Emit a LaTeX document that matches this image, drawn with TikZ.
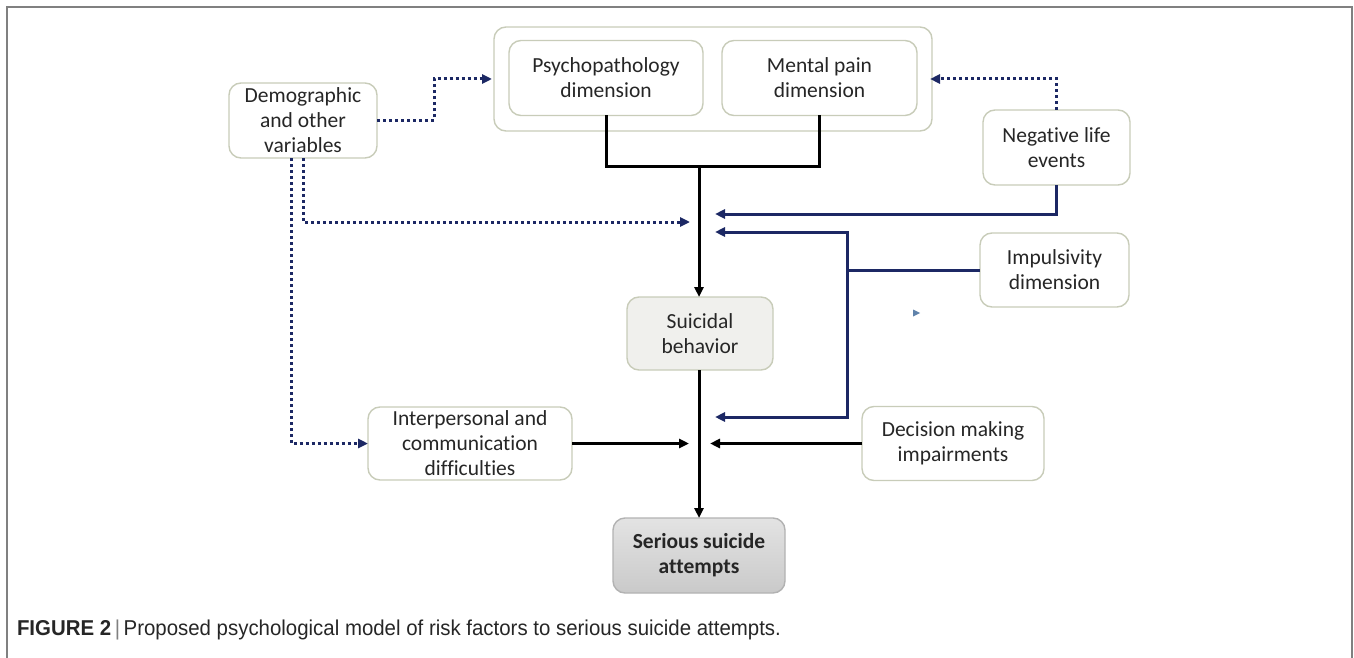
\documentclass[tikz,border=0pt]{standalone}
\usepackage{fontspec}
\setmainfont{Carlito}[Ligatures=NoCommon]
\newfontfamily\capfont{Liberation Sans}[FakeStretch=0.95]
\usetikzlibrary{arrows.meta,positioning,calc}
\definecolor{boxc}{RGB}{200,204,185}
\definecolor{navy}{RGB}{28,40,100}
\definecolor{txt}{RGB}{38,38,38}
\definecolor{frame}{RGB}{128,128,128}
\definecolor{suifill}{RGB}{240,240,237}
\definecolor{stray}{RGB}{95,130,170}
\begin{document}
\begin{tikzpicture}[x=1pt,y=-1pt,
  every node/.style={inner sep=0pt,outer sep=0pt},
  bx/.style={draw=boxc,line width=1.4pt,rounded corners=12pt,fill=white,align=center,
    text=txt,font=\fontsize{21.5}{25}\selectfont},
  blk/.style={draw=black,line width=3pt},
  bl/.style={draw=navy,line width=3pt},
  dt/.style={draw=navy,line width=3pt,dash pattern=on 3pt off 3pt},
  tip/.style={-{Triangle[length=10pt,width=9pt]}},
]
\useasboundingbox (0,0) rectangle (1354,658);
% frame
\draw[frame,line width=1.6pt] (7,660) -- (7,7) -- (1352,7) -- (1352,660);

% boxes
\node[bx,minimum width=438pt,minimum height=104pt] (outer) at (713,79) {};
\node[bx,minimum width=194pt,minimum height=75pt] (psy) at (606,78) {Psychopathology\\dimension};
\node[bx,minimum width=195pt,minimum height=75pt] (mental) at (819.5,78) {Mental pain\\dimension};
\node[bx,minimum width=148pt,minimum height=75pt] (demo) at (303,120.5) {Demographic\\and other\\variables};
\node[bx,minimum width=147pt,minimum height=75pt] (neg) at (1056.5,147.5) {Negative life\\events};
\node[bx,minimum width=149pt,minimum height=74pt] (imp) at (1054.5,270) {Impulsivity\\dimension};
\node[bx,fill=suifill,minimum width=146pt,minimum height=73pt] (sui) at (700,333.5) {Suicidal\\behavior};
\node[bx,minimum width=204pt,minimum height=73pt] (inter) at (470,443.5) {Interpersonal and\\communication\\difficulties};
\node[bx,minimum width=182pt,minimum height=74pt] (dec) at (953,443.5) {Decision making\\impairments};
\node[bx,draw=gray!60,top color=gray!22,bottom color=gray!42,minimum width=172pt,minimum height=75pt,
  font=\bfseries\fontsize{21.5}{25}\selectfont] (ser) at (699,555.5) {Serious suicide\\attempts};

% coordinates
\coordinate (j) at (699,166);
\coordinate (d1) at (690,222);
\coordinate (a1) at (715,214);
\coordinate (a2) at (715,232);
\coordinate (a4) at (715,417);
\coordinate (k) at (847,270);
\coordinate (b1) at (689,443.5);
\coordinate (b2) at (710,443.5);
\coordinate (dm) at (434,120.5);

% black connectors
\draw[blk] (psy.south) |- (j) -| (mental.south);
\draw[blk,tip] (j) -- (j |- sui.north);
\draw[blk,tip] (sui.south -| j) -- (ser.north -| j);
\draw[blk,tip] (inter.east) -- (b1);
\draw[blk,tip] (dec.west) -- (b2);

% blue connectors
\draw[bl,tip] (neg.south) |- (a1);
\draw[bl] (imp.west) -- (k);
\draw[bl,tip] (k) |- (a2);
\draw[bl,tip] (k) |- (a4);

% dotted connectors
\draw[dt,tip,shorten >=2pt] (demo.east) -- (dm) |- (outer.west);
\draw[dt,tip,shorten >=-2pt] (neg.north) |- (outer.east);
\draw[dt,tip] (demo.south) |- (d1);
\draw[dt,tip] ([xshift=-12pt]demo.south) |- (inter.west);

% small stray mark
\fill[stray] (913,309.5) -- (920,313) -- (913,316.5) -- cycle;

% caption
\node[anchor=base west,font=\capfont\fontsize{21.5}{25}\selectfont,text=txt] (cap) at (17,635)
  {\textbf{FIGURE 2}\,{\color{gray}|}\,Proposed psychological model of risk factors to serious suicide attempts.};
\end{tikzpicture}
\end{document}
